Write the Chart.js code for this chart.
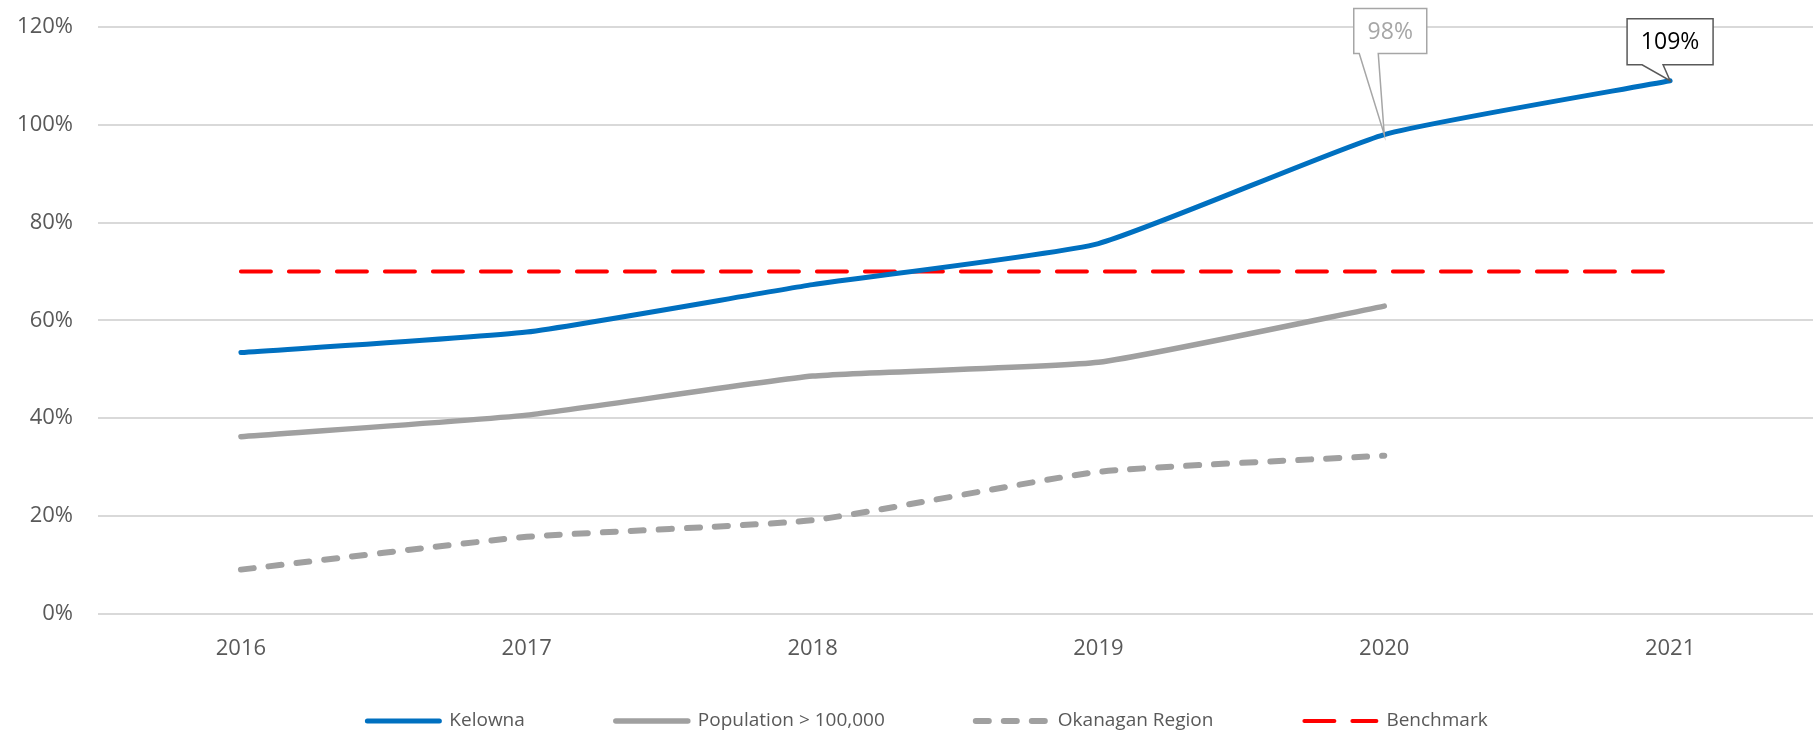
<!DOCTYPE html>
<html>
<head>
<meta charset="utf-8">
<script src="https://cdn.jsdelivr.net/npm/chart.js@4/dist/chart.umd.min.js"></script>
<style>
  html, body { margin: 0; padding: 0; background: #fff; }
  #wrap { width: 1818px; height: 735px; position: relative; }
</style>
</head>
<body>
<div id="wrap"><canvas id="rateChart"></canvas></div>
<script>
const years = ['2016', '2017', '2018', '2019', '2020', '2021'];
const kelowna = [53.4, 57.6, 67.3, 75.7, 98, 109];
const bigCities = [36.2, 40.6, 48.6, 51.4, 62.9, null];
const okanagan = [9.0, 15.7, 19.1, 29.0, 32.3, null];
const benchmark = [70, 70, 70, 70, 70, 70];
const yTicks = [0, 20, 40, 60, 80, 100, 120];

const textColor = '#595959';
const fontFamily = "'Open Sans', 'Noto Sans', sans-serif";

// callout boxes for the last two Kelowna points
const callouts = [
    { index: 4, dx: 6, lift: 81, w: 73, h: 45, color: '#a6a6a6', border: '#a6a6a6', tail: [-25, -6] },
    { index: 5, dx: 0, lift: 16, w: 86, h: 46, color: '#000000', border: '#595959', tail: [-28, -7] }
];

const calloutPlugin = {
    id: 'callouts',
    afterDatasetsDraw(chart) {
        const ctx = chart.ctx;
        const meta = chart.getDatasetMeta(0);
        callouts.forEach(c => {
            const pt = meta.data[c.index];
            const cx = pt.x + c.dx;
            const bottom = pt.y - c.lift;
            const left = cx - c.w / 2;
            const top = bottom - c.h;
            ctx.save();
            ctx.lineWidth = 1.5;
            ctx.strokeStyle = c.border;
            ctx.fillStyle = '#ffffff';
            ctx.beginPath();
            ctx.moveTo(left, top);
            ctx.lineTo(left + c.w, top);
            ctx.lineTo(left + c.w, bottom);
            ctx.lineTo(pt.x + c.tail[1], bottom);
            ctx.lineTo(pt.x, pt.y);
            ctx.lineTo(pt.x + c.tail[0], bottom);
            ctx.lineTo(left, bottom);
            ctx.closePath();
            ctx.fill();
            ctx.stroke();
            ctx.fillStyle = c.color;
            ctx.font = '23px ' + fontFamily;
            ctx.textAlign = 'center';
            ctx.textBaseline = 'middle';
            ctx.fillText(kelowna[c.index] + '%', cx, top + c.h / 2 + 1);
            ctx.restore();
        });
    }
};

// legend along the bottom, wider spacing than the built-in one allows
const legendPlugin = {
    id: 'wideLegend',
    afterDraw(chart) {
        const ctx = chart.ctx;
        const sample = 78, gap = 7, spacing = 88;
        ctx.save();
        ctx.font = '19px ' + fontFamily;
        const items = chart.data.datasets.map(ds => ({ ds, w: ctx.measureText(ds.label).width }));
        const total = items.reduce((s, it) => s + sample + gap + it.w, 0) + spacing * (items.length - 1);
        let x = chart.width / 2 + 17 - total / 2;
        const y = chart.height - 14;
        items.forEach(it => {
            const ds = it.ds;
            ctx.strokeStyle = ds.borderColor;
            ctx.lineWidth = ds.borderWidth;
            ctx.lineCap = 'round';
            ctx.setLineDash(ds.borderDash || []);
            ctx.beginPath();
            ctx.moveTo(x + 3, y);
            ctx.lineTo(x + sample - 3, y);
            ctx.stroke();
            ctx.setLineDash([]);
            ctx.fillStyle = textColor;
            ctx.textAlign = 'left';
            ctx.textBaseline = 'middle';
            ctx.fillText(ds.label, x + sample + gap, y);
            x += sample + gap + it.w + spacing;
        });
        ctx.restore();
    }
};

const ctx = document.getElementById('rateChart').getContext('2d');
const rateChart = new Chart(ctx, {
    type: 'line',
    data: {
        labels: years,
        datasets: [{
            label: 'Kelowna',
            data: kelowna,
            borderColor: '#0070c0',
            backgroundColor: '#0070c0',
            borderWidth: 5,
            borderCapStyle: 'round',
            tension: 0.15,
            pointRadius: 0
        }, {
            label: 'Population > 100,000',
            data: bigCities,
            borderColor: '#a0a0a0',
            backgroundColor: '#a0a0a0',
            borderWidth: 5.5,
            borderCapStyle: 'round',
            tension: 0.15,
            pointRadius: 0
        }, {
            label: 'Okanagan Region',
            data: okanagan,
            borderColor: '#a0a0a0',
            backgroundColor: '#a0a0a0',
            borderWidth: 6,
            borderDash: [13, 15],
            borderCapStyle: 'round',
            tension: 0.15,
            pointRadius: 0
        }, {
            label: 'Benchmark',
            data: benchmark,
            borderColor: '#ff0000',
            backgroundColor: '#ff0000',
            borderWidth: 4,
            borderDash: [30, 18],
            borderCapStyle: 'round',
            pointRadius: 0
        }]
    },
    options: {
        responsive: true,
        maintainAspectRatio: false,
        animation: false,
        layout: { padding: { top: 0, right: 5, left: 0, bottom: 59 } },
        scales: {
            x: {
                offset: true,
                grid: { display: false },
                border: { display: false },
                ticks: {
                    color: textColor,
                    font: { family: fontFamily, size: 22 },
                    padding: 14
                }
            },
            y: {
                min: 0,
                max: 120,
                afterFit(scale) {
                    scale.width = 98;
                    scale.paddingTop = 27;
                },
                afterBuildTicks(scale) { scale.ticks = yTicks.map(v => ({ value: v })); },
                grid: { color: '#d9d9d9', lineWidth: 2, drawTicks: false },
                border: { display: false },
                ticks: {
                    color: textColor,
                    font: { family: fontFamily, size: 22 },
                    padding: 25,
                    callback: function(value) {
                        return value + '%';
                    }
                }
            }
        },
        plugins: {
            legend: { display: false },
            tooltip: { enabled: false }
        }
    },
    plugins: [calloutPlugin, legendPlugin]
});
</script>
</body>
</html>
